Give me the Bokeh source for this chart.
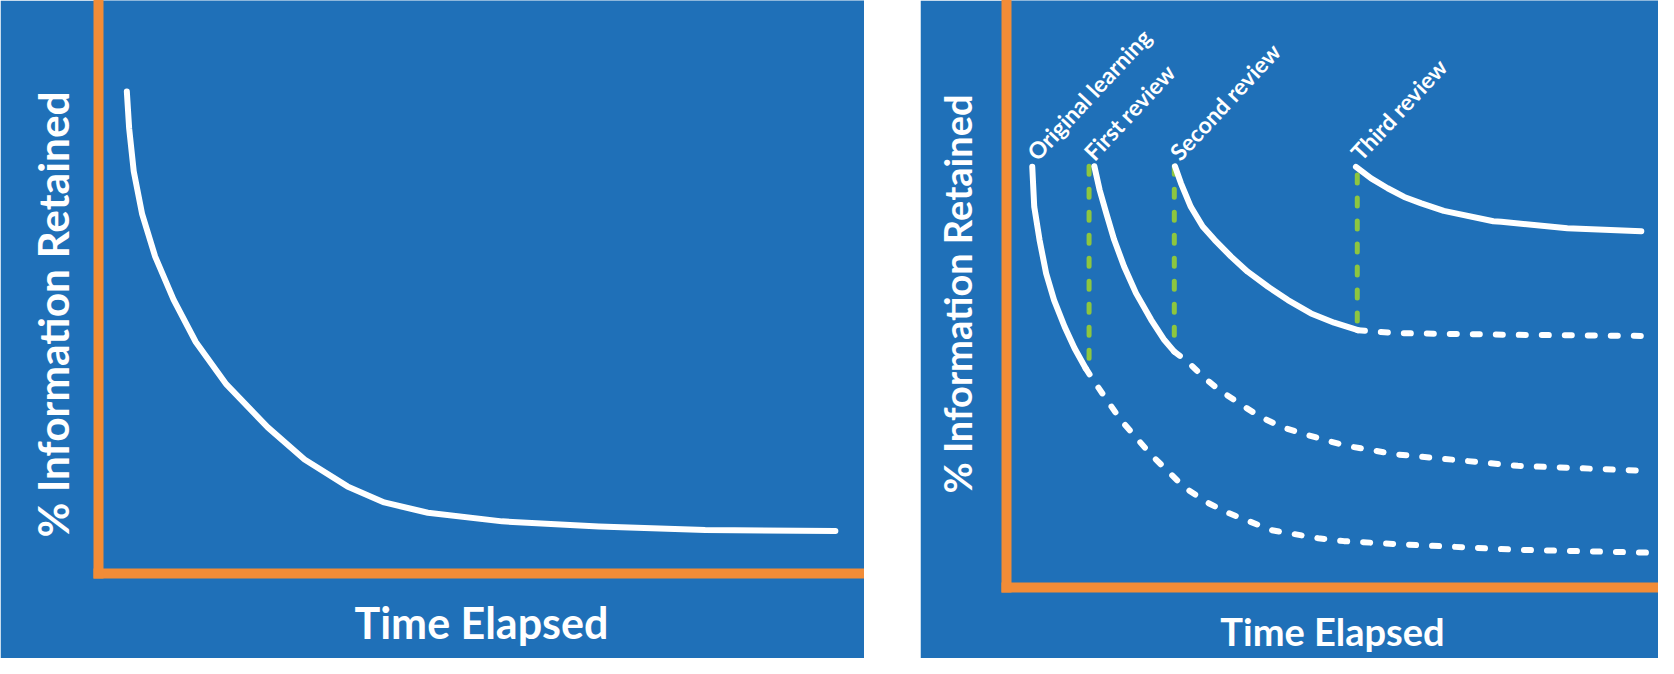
import math
from bokeh.plotting import figure
from bokeh.layouts import row, column
from bokeh.models import Range1d, FixedTicker, ColumnDataSource, Title
from bokeh.core.properties import value
from bokeh.embed import file_html
from bokeh.resources import INLINE

# ---------------- data (time elapsed, % retained) ----------------
# Left panel: single forgetting curve
forget_t = [3.7, 4.0, 4.6, 5.7, 7.4, 9.8, 12.7, 16.7, 22.1, 26.9, 32.5, 37.3, 43.0, 52.7, 65.3, 79.2, 96.2]
forget_r = [84.1, 77.7, 70.2, 62.7, 55.3, 47.8, 40.4, 33.0, 25.5, 19.9, 15.2, 12.4, 10.6, 9.1, 8.2, 7.6, 7.4]

# Right panel: spaced repetition
orig_t = [3.9, 4.2, 5.0, 6.0, 7.2, 8.8, 10.3, 12.0]
orig_r = [72.6, 65.7, 60.0, 54.2, 49.6, 45.0, 41.3, 37.8]
orig_fade_t = [12.0, 13.3, 17.3, 21.9, 26.9, 30.5, 33.5, 40.1, 47.2, 51.1, 58.8, 77.4, 97.6]
orig_fade_r = [37.8, 35.5, 28.9, 22.9, 17.3, 14.6, 12.9, 9.9, 8.5, 8.0, 7.5, 6.5, 6.0]

rev1_t = [13.3, 14.1, 15.1, 16.3, 17.8, 19.6, 21.9, 23.9, 25.4]
rev1_r = [72.7, 68.6, 64.6, 60.0, 55.4, 50.8, 46.2, 42.7, 40.7]
rev1_fade_t = [25.4, 27.5, 29.8, 32.2, 35.2, 38.2, 41.6, 45.0, 48.7, 51.7, 58.8, 77.4, 97.6]
rev1_fade_r = [40.7, 38.9, 36.3, 34.1, 31.8, 29.6, 27.7, 26.5, 25.3, 24.4, 23.0, 21.0, 20.1]

rev2_t = [25.5, 26.4, 27.9, 29.7, 31.5, 34.0, 36.5, 39.6, 42.6, 46.1, 49.6, 53.2]
rev2_r = [72.7, 69.8, 65.7, 62.3, 60.0, 57.1, 54.5, 51.9, 49.6, 47.3, 45.7, 44.4]
rev2_fade_t = [53.2, 58.8, 77.4, 98.2]
rev2_fade_r = [44.4, 43.9, 43.6, 43.4]

rev3_t = [52.9, 55.2, 57.7, 60.2, 62.8, 66.2, 73.7, 74.9, 84.9, 96.1]
rev3_r = [72.6, 70.6, 68.9, 67.4, 66.3, 65.0, 63.2, 63.1, 62.0, 61.5]

review_t = [12.5, 25.4, 53.1]
review_top = [72.7, 72.7, 71.2]
review_floor = [38.4, 42.7, 45.3]

stage_labels = ["Original learning", "First review", "Second review", "Third review"]
stage_t = [3.9, 12.5, 25.5, 52.9]
stage_r = [72.7, 72.7, 72.7, 72.7]

y_title = "% Information Retained"
x_title = "Time Elapsed"

# ---------------- style ----------------
BLUE = "#1F70B8"
ORANGE = "#F28C37"
GREEN = "#8DC63F"
WHITE = "#FFFFFF"
FONT = "Lato"


def make_fig(width, height, xmax, ymax, left_border, bottom_border):
    p = figure(width=width, height=height, x_range=Range1d(0, xmax), y_range=Range1d(0, ymax),
               output_backend="svg", toolbar_location=None,
               min_border_left=left_border, min_border_bottom=bottom_border,
               min_border_top=0, min_border_right=0)
    p.background_fill_color = BLUE
    p.border_fill_color = BLUE
    p.outline_line_color = None
    p.xgrid.visible = False
    p.ygrid.visible = False
    for ax in (p.xaxis[0], p.yaxis[0]):
        ax.ticker = FixedTicker(ticks=[])
        ax.axis_line_color = ORANGE
        ax.axis_line_width = 10
        ax.axis_line_cap = "square"
        ax.major_tick_line_color = None
        ax.minor_tick_line_color = None
        ax.major_tick_out = 0
        ax.major_tick_in = 0
        ax.minor_tick_out = 0
        ax.minor_tick_in = 0
        ax.major_label_text_font_size = "0px"
        ax.major_label_standoff = 0
        ax.axis_label_text_color = WHITE
        ax.axis_label_text_font = FONT
        ax.axis_label_text_font_style = "bold"
    return p


# Left panel
p1 = make_fig(864, 658, 100, 100, 98, 85)
p1.xaxis[0].axis_label = x_title
p1.xaxis[0].axis_label_text_font_size = "43px"
p1.xaxis[0].axis_label_standoff = 23
p1.add_layout(Title(text=y_title, align="left", offset=36, vertical_align="bottom",
                    standoff=42, text_color=WHITE, text_font=FONT,
                    text_font_style="bold", text_font_size="42.5px"), "left")
p1.line(forget_t, forget_r, line_color=WHITE, line_width=6, line_cap="round", line_join="round")

# Right panel
p2 = make_fig(738, 658, 98.7, 101.3, 86, 71)
p2.yaxis[0].axis_label = y_title
p2.yaxis[0].axis_label_text_font_size = "38px"
p2.yaxis[0].axis_label_standoff = 27
p2.xaxis[0].axis_label = x_title
p2.xaxis[0].axis_label_text_font_size = "38px"
p2.xaxis[0].axis_label_standoff = 20

dash = dict(line_color=WHITE, line_width=6, line_cap="round", line_dash="7 16")
solid = dict(line_color=WHITE, line_width=6, line_cap="round", line_join="round")
p2.line(orig_fade_t, orig_fade_r, **dash)
p2.line(rev1_fade_t, rev1_fade_r, **dash)
p2.line(rev2_fade_t, rev2_fade_r, **dash)
p2.segment(x0=review_t, y0=review_top, x1=review_t, y1=review_floor,
           line_color=GREEN, line_width=5, line_cap="round", line_dash="8 15")
p2.line(orig_t, orig_r, **solid)
p2.line(rev1_t, rev1_r, **solid)
p2.line(rev2_t, rev2_r, **solid)
p2.line(rev3_t, rev3_r, **solid)

src = ColumnDataSource(dict(x=stage_t, y=stage_r, text=stage_labels))
p2.text(x="x", y="y", text="text", source=src, angle=math.radians(47),
        x_offset=-1, y_offset=-10, text_color=WHITE, text_font=value(FONT),
        text_font_style="bold", text_font_size="23px",
        text_align="left", text_baseline="alphabetic")

layout = row(column(p1), column(p2), spacing=56)
open("out.html", "w").write(file_html(layout, INLINE))
